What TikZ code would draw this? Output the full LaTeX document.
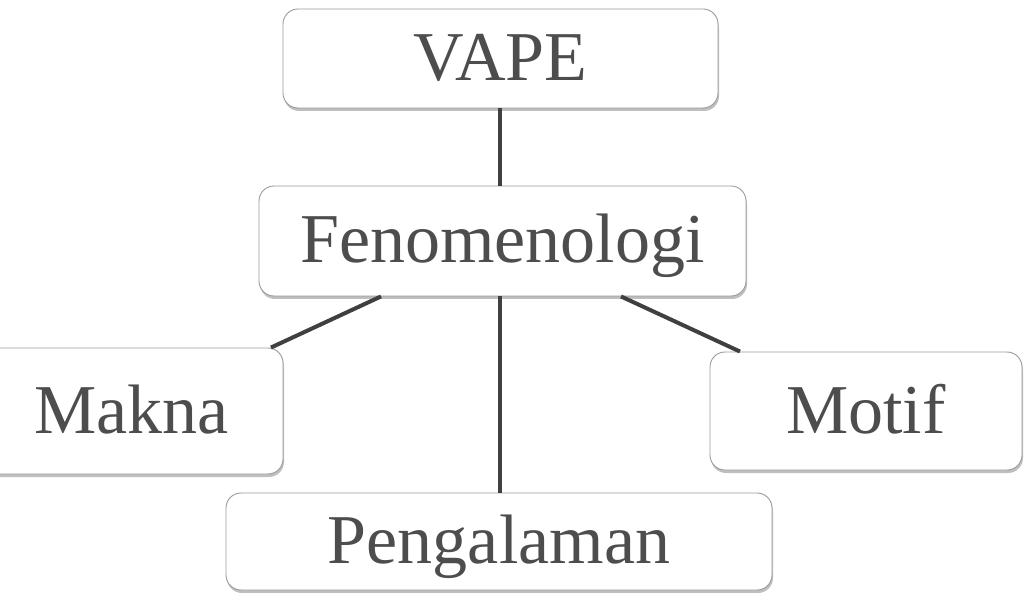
\documentclass[tikz,border=0pt]{standalone}
\usepackage{fontspec}
\setmainfont{Liberation Serif}
\usetikzlibrary{shadows}
\definecolor{txtgray}{HTML}{4D4D4D}
\definecolor{linegray}{HTML}{404040}
\definecolor{boxgray}{HTML}{9A9A9A}
\tikzset{
  box/.style={draw=boxgray, line width=0.9pt, fill=white, rounded corners=15pt,
    inner sep=0pt, text=txtgray, font=\fontsize{70}{80}\selectfont,
    text height=50pt, text depth=6pt,
    drop shadow={shadow xshift=1pt, shadow yshift=-3pt, opacity=0.25, fill=black}},
  link/.style={draw=linegray, line width=4pt}
}
\begin{document}
\begin{tikzpicture}[x=1pt,y=-1pt]
\useasboundingbox (0,0) rectangle (1025,593);
\node[box, minimum width=435pt, minimum height=99pt] (vape) at (500.5,58.5) {VAPE};
\node[box, minimum width=487pt, minimum height=110pt] (fen) at (502.5,241) {Fenomenologi};
\node[box, minimum width=303pt, minimum height=126pt] (makna) at (131.5,411) {Makna};
\node[box, minimum width=312pt, minimum height=118pt] (motif) at (866,411) {Motif};
\node[box, minimum width=546pt, minimum height=97pt] (peng) at (499,541.5) {Pengalaman};
\draw[link] ([xshift=-0.5pt]vape.south) -- ([xshift=-2.5pt]fen.north);
\draw[link] ([xshift=-121.5pt]fen.south) -- ([xshift=139.5pt]makna.north);
\draw[link] ([xshift=-2.5pt]fen.south) -- ([xshift=1pt]peng.north);
\draw[link] ([xshift=118.5pt]fen.south) -- ([xshift=-126pt]motif.north);
\end{tikzpicture}
\end{document}
